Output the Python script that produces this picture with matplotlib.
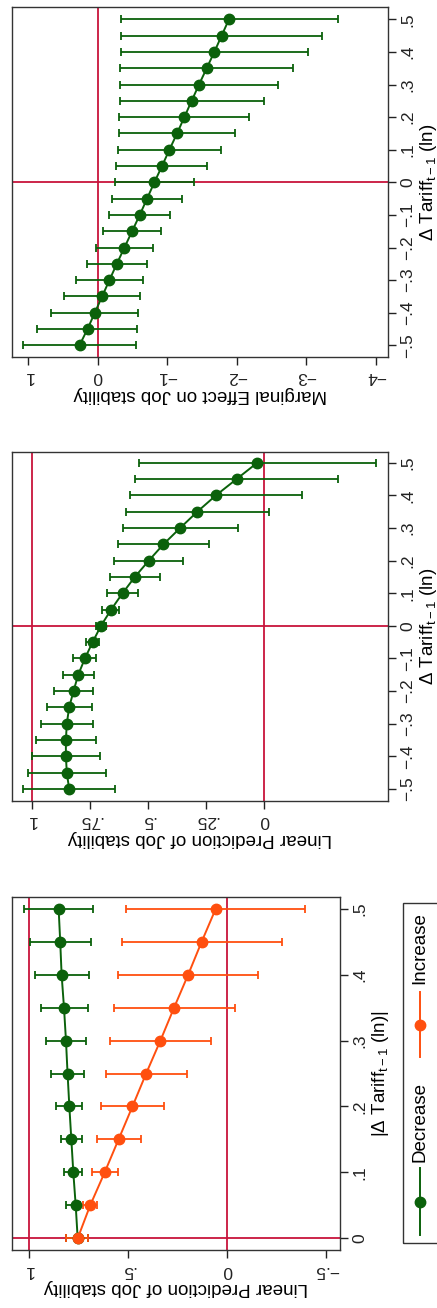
### import libraries
import numpy as np
import matplotlib
matplotlib.use('Agg')
import matplotlib.pyplot as plt
from matplotlib.ticker import FuncFormatter
from matplotlib.patches import Rectangle
from matplotlib.lines import Line2D

plt.rcParams['font.family'] = ['Liberation Sans', 'DejaVu Sans']
plt.rcParams['mathtext.fontset'] = 'custom'
plt.rcParams['mathtext.rm'] = 'Liberation Sans'
plt.rcParams['mathtext.it'] = 'Liberation Sans'
plt.rcParams['font.size'] = 12.5

# colours
green = '#0b610b'
orange = '#ff4f0f'
red = '#c8143c'

# ---- panel 1: |d tariff| split by decrease / increase
abs_tariff = [0, .05, .1, .15, .2, .25, .3, .35, .4, .45, .5]
dec_est = [0.753, 0.763, 0.775, 0.785, 0.795, 0.804, 0.812, 0.822, 0.834, 0.841, 0.849]
dec_lo = [0.701, 0.740, 0.730, 0.730, 0.730, 0.721, 0.713, 0.703, 0.695, 0.688, 0.676]
dec_hi = [0.812, 0.814, 0.822, 0.836, 0.861, 0.886, 0.913, 0.940, 0.968, 0.995, 1.025]
inc_est = [0.753, 0.690, 0.617, 0.547, 0.477, 0.408, 0.336, 0.267, 0.196, 0.128, 0.057]
inc_lo = [0.701, 0.655, 0.550, 0.435, 0.319, 0.200, 0.082, -0.040, -0.156, -0.279, -0.393]
inc_hi = [0.812, 0.724, 0.683, 0.658, 0.636, 0.612, 0.592, 0.570, 0.550, 0.529, 0.507]

# ---- panel 2: linear prediction over d tariff
tariff = [-.5, -.45, -.4, -.35, -.3, -.25, -.2, -.15, -.1, -.05, 0,
          .05, .1, .15, .2, .25, .3, .35, .4, .45, .5]
pred_est = [0.840, 0.850, 0.854, 0.854, 0.850, 0.840, 0.821, 0.801, 0.772, 0.739, 0.703,
            0.659, 0.610, 0.557, 0.497, 0.434, 0.362, 0.288, 0.208, 0.119, 0.030]
pred_lo = [0.642, 0.681, 0.709, 0.726, 0.736, 0.741, 0.739, 0.735, 0.723, 0.711, 0.683,
           0.625, 0.544, 0.450, 0.350, 0.238, 0.113, -0.019, -0.162, -0.318, -0.483]
pred_hi = [1.039, 1.019, 1.001, 0.983, 0.961, 0.934, 0.904, 0.867, 0.822, 0.769, 0.723,
           0.698, 0.679, 0.662, 0.645, 0.628, 0.609, 0.593, 0.576, 0.556, 0.539]

# ---- panel 3: marginal effect over d tariff
me_est = [0.263, 0.148, 0.043, -0.062, -0.167, -0.273, -0.383, -0.493, -0.603, -0.708, -0.813,
          -0.923, -1.029, -1.139, -1.244, -1.349, -1.455, -1.565, -1.675, -1.780, -1.885]
me_lo = [-0.550, -0.560, -0.579, -0.608, -0.656, -0.703, -0.789, -0.909, -1.043, -1.206, -1.378,
         -1.574, -1.766, -1.976, -2.177, -2.388, -2.593, -2.809, -3.019, -3.230, -3.455]
me_hi = [1.077, 0.876, 0.675, 0.493, 0.311, 0.158, 0.024, -0.081, -0.158, -0.206, -0.249,
         -0.268, -0.287, -0.301, -0.311, -0.321, -0.325, -0.325, -0.330, -0.330, -0.330]


def stata_fmt(v, pos=None):
    if abs(v) < 1e-9:
        return '0'
    s = ('%g' % abs(v)).lstrip('0')
    return ('\u2212' if v < 0 else '') + s


def ci_plot(ax, est, lo, hi, y, col):
    est = np.array(est)
    err = [est - np.array(lo), np.array(hi) - est]
    ax.errorbar(est, y, xerr=err, fmt='-o', color=col, ms=7.5, lw=1.4,
                elinewidth=1.3, capsize=3, capthick=1.3, zorder=3)


def style(ax, xticks, yticks, xlab, ylab, xlim, ylim):
    ax.set_xlim(*xlim)
    ax.set_ylim(*ylim)
    ax.set_xticks(xticks)
    ax.set_yticks(yticks)
    ax.xaxis.set_major_formatter(FuncFormatter(stata_fmt))
    ax.yaxis.set_major_formatter(FuncFormatter(stata_fmt))
    ax.yaxis.tick_right()
    ax.yaxis.set_label_position('right')
    ax.tick_params(axis='x', length=6, width=1, pad=3, labelrotation=180, colors='#222222')
    ax.tick_params(axis='y', length=6, width=1, pad=3, labelrotation=90, colors='#222222')
    for lab in ax.get_yticklabels():
        lab.set_va('center')
    ax.set_xlabel(xlab, rotation=180, labelpad=1, fontsize=13.5)
    ax.set_ylabel(ylab, rotation=90, labelpad=2, fontsize=13.5)
    for sp in ax.spines.values():
        sp.set_color('#333333')
        sp.set_linewidth(1)


W, H = 437, 1308
fig = plt.figure(figsize=(W / 100, H / 100), dpi=100)


def box(l, t, r, b):
    return [l / W, 1 - b / H, (r - l) / W, (b - t) / H]


tariff_lab = '\u0394 Tariff$_{\\mathrm{t-1}}$ (ln)'

# top: marginal effect
ax3 = fig.add_axes(box(12, 7, 388, 357))
ax3.axvline(0, color=red, lw=1.3, zorder=1)
ax3.axhline(0, color=red, lw=1.3, zorder=1)
ci_plot(ax3, me_est, me_lo, me_hi, tariff, green)
style(ax3, [1, 0, -1, -2, -3, -4], [-.5, -.4, -.3, -.2, -.1, 0, .1, .2, .3, .4, .5],
      'Marginal Effect on Job stability', tariff_lab, (1.234, -4.172), (-0.536, 0.538))

# middle: linear prediction
ax2 = fig.add_axes(box(12, 452, 388, 801))
ax2.axvline(1, color=red, lw=1.3, zorder=1)
ax2.axvline(0, color=red, lw=1.3, zorder=1)
ax2.axhline(0, color=red, lw=1.3, zorder=1)
ci_plot(ax2, pred_est, pred_lo, pred_hi, tariff, green)
style(ax2, [1, .75, .5, .25, 0], [-.5, -.4, -.3, -.2, -.1, 0, .1, .2, .3, .4, .5],
      'Linear Prediction of Job stability', tariff_lab, (1.086, -0.533), (-0.537, 0.533))

# bottom: decrease vs increase
ax1 = fig.add_axes(box(12, 897, 340, 1250))
ax1.axvline(1, color=red, lw=1.3, zorder=1)
ax1.axvline(0, color=red, lw=1.3, zorder=1)
ax1.axhline(0, color=red, lw=1.3, zorder=1)
ci_plot(ax1, dec_est, dec_lo, dec_hi, abs_tariff, green)
ci_plot(ax1, inc_est, inc_lo, inc_hi, abs_tariff, orange)
style(ax1, [1, .5, 0, -.5], [0, .1, .2, .3, .4, .5],
      'Linear Prediction of Job stability', '|' + tariff_lab + '|',
      (1.084, -0.569), (-0.0177, 0.5177))

# legend (drawn rotated by hand)
fig.add_artist(Rectangle((403 / W, 1 - 1243 / H), 40 / W, 340 / H, transform=fig.transFigure,
                         fill=False, ec='#333333', lw=1))
for col, (y0, y1), ym, ty, txt in [(green, (1168, 1235), 1202, 1122, 'Decrease'),
                                   (orange, (992, 1057), 1025, 948, 'Increase')]:
    fig.add_artist(Line2D([420 / W, 420 / W], [1 - y0 / H, 1 - y1 / H], color=col, lw=1.4,
                          transform=fig.transFigure))
    fig.add_artist(Line2D([420 / W], [1 - ym / H], color=col, marker='o', ms=7.5,
                          transform=fig.transFigure))
    fig.text(420 / W, 1 - ty / H, txt, rotation=90, ha='center', va='center', fontsize=13.5)

plt.savefig('out.png', dpi=100)
